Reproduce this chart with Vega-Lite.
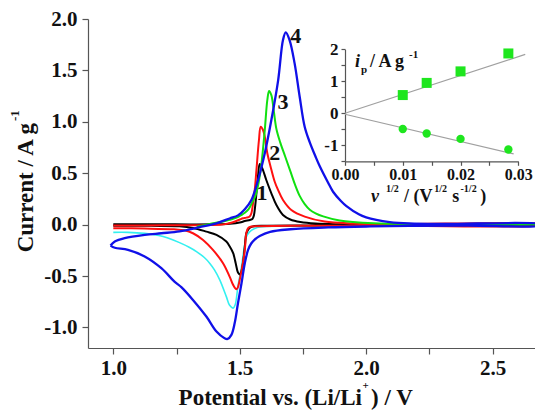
{
  "$schema": "https://vega.github.io/schema/vega-lite/v6.json",
  "width": 447,
  "height": 329,
  "autosize": "none",
  "padding": {"left": 88, "top": 19, "right": 0, "bottom": 65},
  "background": "white",
  "config": {"view": {"stroke": null}, "font": "Liberation Serif"},
  "datasets": {
    "cv": [
      {"c":"1","i":0,"V":1.0,"I":0.004},{"c":"1","i":1,"V":1.1,"I":0.003},{"c":"1","i":2,"V":1.2,"I":0.003},{"c":"1","i":3,"V":1.3,"I":0.002},{"c":"1","i":4,"V":1.4,"I":0.003},{"c":"1","i":5,"V":1.46,"I":0.008},{"c":"1","i":6,"V":1.5,"I":0.02},{"c":"1","i":7,"V":1.52,"I":0.035},{"c":"1","i":8,"V":1.54,"I":0.045},{"c":"1","i":9,"V":1.55,"I":0.055},{"c":"1","i":10,"V":1.556,"I":0.09},{"c":"1","i":11,"V":1.561,"I":0.18},{"c":"1","i":12,"V":1.566,"I":0.305},{"c":"1","i":13,"V":1.572,"I":0.467},{"c":"1","i":14,"V":1.579,"I":0.59},{"c":"1","i":15,"V":1.585,"I":0.57},{"c":"1","i":16,"V":1.592,"I":0.53},{"c":"1","i":17,"V":1.605,"I":0.434},{"c":"1","i":18,"V":1.625,"I":0.305},{"c":"1","i":19,"V":1.645,"I":0.19},{"c":"1","i":20,"V":1.671,"I":0.094},{"c":"1","i":21,"V":1.7,"I":0.05},{"c":"1","i":22,"V":1.74,"I":0.025},{"c":"1","i":23,"V":1.8,"I":0.01},{"c":"1","i":24,"V":1.9,"I":0.004},{"c":"1","i":25,"V":2.2,"I":0.002},{"c":"1","i":26,"V":2.7,"I":0.001},
      {"c":"1","i":27,"V":2.7,"I":-0.004},{"c":"1","i":28,"V":2.2,"I":-0.006},{"c":"1","i":29,"V":1.8,"I":-0.008},{"c":"1","i":30,"V":1.6,"I":-0.01},{"c":"1","i":31,"V":1.555,"I":-0.015},{"c":"1","i":32,"V":1.54,"I":-0.03},{"c":"1","i":33,"V":1.533,"I":-0.05},{"c":"1","i":34,"V":1.526,"I":-0.084},{"c":"1","i":35,"V":1.52,"I":-0.214},{"c":"1","i":36,"V":1.513,"I":-0.375},{"c":"1","i":37,"V":1.506,"I":-0.46},{"c":"1","i":38,"V":1.5,"I":-0.485},{"c":"1","i":39,"V":1.493,"I":-0.466},{"c":"1","i":40,"V":1.484,"I":-0.375},{"c":"1","i":41,"V":1.474,"I":-0.278},{"c":"1","i":42,"V":1.46,"I":-0.21},{"c":"1","i":43,"V":1.447,"I":-0.165},{"c":"1","i":44,"V":1.408,"I":-0.1},{"c":"1","i":45,"V":1.368,"I":-0.068},{"c":"1","i":46,"V":1.315,"I":-0.032},{"c":"1","i":47,"V":1.262,"I":-0.016},{"c":"1","i":48,"V":1.15,"I":-0.012},{"c":"1","i":49,"V":1.0,"I":-0.01},

      {"c":"2","i":0,"V":1.0,"I":-0.008},{"c":"2","i":1,"V":1.2,"I":-0.007},{"c":"2","i":2,"V":1.35,"I":-0.005},{"c":"2","i":3,"V":1.43,"I":0.0},{"c":"2","i":4,"V":1.47,"I":0.02},{"c":"2","i":5,"V":1.5,"I":0.05},{"c":"2","i":6,"V":1.513,"I":0.062},{"c":"2","i":7,"V":1.526,"I":0.068},{"c":"2","i":8,"V":1.539,"I":0.08},{"c":"2","i":9,"V":1.546,"I":0.11},{"c":"2","i":10,"V":1.552,"I":0.2},{"c":"2","i":11,"V":1.559,"I":0.33},{"c":"2","i":12,"V":1.566,"I":0.53},{"c":"2","i":13,"V":1.576,"I":0.823},{"c":"2","i":14,"V":1.583,"I":0.952},{"c":"2","i":15,"V":1.592,"I":0.92},{"c":"2","i":16,"V":1.599,"I":0.855},{"c":"2","i":17,"V":1.609,"I":0.694},{"c":"2","i":18,"V":1.622,"I":0.564},{"c":"2","i":19,"V":1.638,"I":0.42},{"c":"2","i":20,"V":1.651,"I":0.34},{"c":"2","i":21,"V":1.671,"I":0.24},{"c":"2","i":22,"V":1.704,"I":0.143},{"c":"2","i":23,"V":1.757,"I":0.078},{"c":"2","i":24,"V":1.836,"I":0.03},{"c":"2","i":25,"V":1.95,"I":0.012},{"c":"2","i":26,"V":2.1,"I":0.005},{"c":"2","i":27,"V":2.7,"I":0.002},
      {"c":"2","i":28,"V":2.7,"I":-0.005},{"c":"2","i":29,"V":2.0,"I":-0.008},{"c":"2","i":30,"V":1.7,"I":-0.01},{"c":"2","i":31,"V":1.58,"I":-0.015},{"c":"2","i":32,"V":1.546,"I":-0.019},{"c":"2","i":33,"V":1.533,"I":-0.035},{"c":"2","i":34,"V":1.526,"I":-0.084},{"c":"2","i":35,"V":1.52,"I":-0.246},{"c":"2","i":36,"V":1.51,"I":-0.408},{"c":"2","i":37,"V":1.5,"I":-0.537},{"c":"2","i":38,"V":1.493,"I":-0.608},{"c":"2","i":39,"V":1.487,"I":-0.628},{"c":"2","i":40,"V":1.474,"I":-0.586},{"c":"2","i":41,"V":1.46,"I":-0.505},{"c":"2","i":42,"V":1.434,"I":-0.375},{"c":"2","i":43,"V":1.394,"I":-0.246},{"c":"2","i":44,"V":1.355,"I":-0.149},{"c":"2","i":45,"V":1.315,"I":-0.084},{"c":"2","i":46,"V":1.282,"I":-0.055},{"c":"2","i":47,"V":1.24,"I":-0.045},{"c":"2","i":48,"V":1.124,"I":-0.038},{"c":"2","i":49,"V":1.0,"I":-0.035},

      {"c":"3","i":0,"V":1.33,"I":-0.02},{"c":"3","i":1,"V":1.36,"I":-0.005},{"c":"3","i":2,"V":1.394,"I":0.013},{"c":"3","i":3,"V":1.43,"I":0.028},{"c":"3","i":4,"V":1.46,"I":0.046},{"c":"3","i":5,"V":1.49,"I":0.07},{"c":"3","i":6,"V":1.507,"I":0.094},{"c":"3","i":7,"V":1.52,"I":0.115},{"c":"3","i":8,"V":1.535,"I":0.15},{"c":"3","i":9,"V":1.55,"I":0.22},{"c":"3","i":10,"V":1.562,"I":0.28},{"c":"3","i":11,"V":1.574,"I":0.4},{"c":"3","i":12,"V":1.586,"I":0.596},{"c":"3","i":13,"V":1.599,"I":0.92},{"c":"3","i":14,"V":1.609,"I":1.21},{"c":"3","i":15,"V":1.616,"I":1.3},{"c":"3","i":16,"V":1.625,"I":1.26},{"c":"3","i":17,"V":1.635,"I":1.1},{"c":"3","i":18,"V":1.645,"I":0.93},{"c":"3","i":19,"V":1.66,"I":0.8},{"c":"3","i":20,"V":1.68,"I":0.66},{"c":"3","i":21,"V":1.7,"I":0.52},{"c":"3","i":22,"V":1.72,"I":0.38},{"c":"3","i":23,"V":1.737,"I":0.28},{"c":"3","i":24,"V":1.757,"I":0.2},{"c":"3","i":25,"V":1.777,"I":0.145},{"c":"3","i":26,"V":1.8,"I":0.11},{"c":"3","i":27,"V":1.83,"I":0.08},{"c":"3","i":28,"V":1.895,"I":0.04},{"c":"3","i":29,"V":2.03,"I":0.013},{"c":"3","i":30,"V":2.2,"I":0.005},{"c":"3","i":31,"V":2.7,"I":0.002},

      {"c":"3c","i":0,"V":1.0,"I":-0.075},{"c":"3c","i":1,"V":1.058,"I":-0.075},{"c":"3c","i":2,"V":1.124,"I":-0.085},{"c":"3c","i":3,"V":1.18,"I":-0.105},{"c":"3c","i":4,"V":1.216,"I":-0.13},{"c":"3c","i":5,"V":1.262,"I":-0.175},{"c":"3c","i":6,"V":1.3,"I":-0.22},{"c":"3c","i":7,"V":1.329,"I":-0.262},{"c":"3c","i":8,"V":1.36,"I":-0.32},{"c":"3c","i":9,"V":1.381,"I":-0.375},{"c":"3c","i":10,"V":1.4,"I":-0.44},{"c":"3c","i":11,"V":1.421,"I":-0.537},{"c":"3c","i":12,"V":1.447,"I":-0.7},{"c":"3c","i":13,"V":1.46,"I":-0.785},{"c":"3c","i":14,"V":1.474,"I":-0.812},{"c":"3c","i":15,"V":1.482,"I":-0.78},{"c":"3c","i":16,"V":1.493,"I":-0.6},{"c":"3c","i":17,"V":1.507,"I":-0.41},{"c":"3c","i":18,"V":1.515,"I":-0.27},{"c":"3c","i":19,"V":1.52,"I":-0.19},{"c":"3c","i":20,"V":1.526,"I":-0.12},{"c":"3c","i":21,"V":1.539,"I":-0.07},{"c":"3c","i":22,"V":1.559,"I":-0.038},{"c":"3c","i":23,"V":1.579,"I":-0.022},{"c":"3c","i":24,"V":1.7,"I":-0.015},{"c":"3c","i":25,"V":2.0,"I":-0.01},{"c":"3c","i":26,"V":2.7,"I":-0.005},

      {"c":"4","i":0,"V":0.989,"I":-0.204},{"c":"4","i":1,"V":1.006,"I":-0.165},{"c":"4","i":2,"V":1.045,"I":-0.132},{"c":"4","i":3,"V":1.124,"I":-0.1},{"c":"4","i":4,"V":1.19,"I":-0.084},{"c":"4","i":5,"V":1.262,"I":-0.066},{"c":"4","i":6,"V":1.341,"I":-0.025},{"c":"4","i":7,"V":1.408,"I":0.013},{"c":"4","i":8,"V":1.46,"I":0.06},{"c":"4","i":9,"V":1.493,"I":0.09},{"c":"4","i":10,"V":1.52,"I":0.15},{"c":"4","i":11,"V":1.546,"I":0.24},{"c":"4","i":12,"V":1.572,"I":0.43},{"c":"4","i":13,"V":1.599,"I":0.694},{"c":"4","i":14,"V":1.625,"I":1.017},{"c":"4","i":15,"V":1.652,"I":1.406},{"c":"4","i":16,"V":1.671,"I":1.795},{"c":"4","i":17,"V":1.682,"I":1.87},{"c":"4","i":18,"V":1.697,"I":1.795},{"c":"4","i":19,"V":1.717,"I":1.568},{"c":"4","i":20,"V":1.737,"I":1.244},{"c":"4","i":21,"V":1.757,"I":0.95},{"c":"4","i":22,"V":1.777,"I":0.8},{"c":"4","i":23,"V":1.8,"I":0.66},{"c":"4","i":24,"V":1.816,"I":0.57},{"c":"4","i":25,"V":1.849,"I":0.41},{"c":"4","i":26,"V":1.869,"I":0.32},{"c":"4","i":27,"V":1.9,"I":0.23},{"c":"4","i":28,"V":1.922,"I":0.18},{"c":"4","i":29,"V":1.971,"I":0.1},{"c":"4","i":30,"V":2.0,"I":0.07},{"c":"4","i":31,"V":2.04,"I":0.045},{"c":"4","i":32,"V":2.093,"I":0.025},{"c":"4","i":33,"V":2.17,"I":0.012},{"c":"4","i":34,"V":2.3,"I":0.006},{"c":"4","i":35,"V":2.7,"I":0.003},
      {"c":"4","i":36,"V":2.7,"I":-0.008},{"c":"4","i":37,"V":2.4,"I":-0.01},{"c":"4","i":38,"V":2.17,"I":-0.013},{"c":"4","i":39,"V":2.0,"I":-0.018},{"c":"4","i":40,"V":1.85,"I":-0.027},{"c":"4","i":41,"V":1.7,"I":-0.045},{"c":"4","i":42,"V":1.62,"I":-0.07},{"c":"4","i":43,"V":1.579,"I":-0.11},{"c":"4","i":44,"V":1.559,"I":-0.145},{"c":"4","i":45,"V":1.546,"I":-0.181},{"c":"4","i":46,"V":1.533,"I":-0.246},{"c":"4","i":47,"V":1.52,"I":-0.375},{"c":"4","i":48,"V":1.507,"I":-0.57},{"c":"4","i":49,"V":1.493,"I":-0.764},{"c":"4","i":50,"V":1.48,"I":-0.958},{"c":"4","i":51,"V":1.467,"I":-1.072},{"c":"4","i":52,"V":1.452,"I":-1.112},{"c":"4","i":53,"V":1.44,"I":-1.105},{"c":"4","i":54,"V":1.408,"I":-1.04},{"c":"4","i":55,"V":1.368,"I":-0.894},{"c":"4","i":56,"V":1.315,"I":-0.732},{"c":"4","i":57,"V":1.27,"I":-0.61},{"c":"4","i":58,"V":1.242,"I":-0.554},{"c":"4","i":59,"V":1.19,"I":-0.424},{"c":"4","i":60,"V":1.124,"I":-0.31},{"c":"4","i":61,"V":1.058,"I":-0.246},{"c":"4","i":62,"V":1.006,"I":-0.225},{"c":"4","i":63,"V":0.989,"I":-0.204}
    ],
    "labels": [
      {"lab":"1","V":1.588,"I":0.305},{"lab":"2","V":1.638,"I":0.694},{"lab":"3","V":1.671,"I":1.195},{"lab":"4","V":1.721,"I":1.834}
    ],
    "pts": [
      {"x":0.01,"y":0.57,"k":"a"},{"x":0.01414,"y":0.95,"k":"a"},{"x":0.02,"y":1.31,"k":"a"},{"x":0.02828,"y":1.87,"k":"a"},
      {"x":0.01,"y":-0.49,"k":"c"},{"x":0.01414,"y":-0.63,"k":"c"},{"x":0.02,"y":-0.8,"k":"c"},{"x":0.02828,"y":-1.13,"k":"c"}
    ],
    "fit": [
      {"line":"a","x":0,"y":0},{"line":"a","x":0.0312,"y":1.84},
      {"line":"c","x":0,"y":-0.03},{"line":"c","x":0.0292,"y":-1.27}
    ],
    "one": [{}]
  },
  "layer": [
    {
      "layer": [
        {
          "data": {"name": "cv"},
          "transform": [{"filter": "datum.c === '3c'"}],
          "mark": {"type": "line", "color": "#33f0f0", "strokeWidth": 1.6, "clip": true, "interpolate": "catmull-rom"},
          "encoding": {
            "x": {"field": "V", "type": "quantitative",
              "scale": {"domain": [0.9, 2.6675], "nice": false, "zero": false},
              "axis": {"title": null, "values": [1.0, 1.25, 1.5, 1.75, 2.0, 2.25, 2.5],
                "labelExpr": "abs(datum.value*2 - round(datum.value*2)) < 0.001 ? format(datum.value, '.1f') : ''",
                "tickSize": 6,
                "labelFont": "Liberation Serif", "labelFontWeight": "bold", "labelFontSize": 21, "labelColor": "#111",
                "labelPadding": 3, "domainColor": "#555", "tickColor": "#555", "domainWidth": 1.2, "tickWidth": 1.2,
                "grid": false, "labelOverlap": false, "labelFlush": false}},
            "y": {"field": "I", "type": "quantitative",
              "scale": {"domain": [-1.2, 2.0], "nice": false, "zero": false},
              "axis": {"title": null, "values": [-1.0, -0.75, -0.5, -0.25, 0, 0.25, 0.5, 0.75, 1.0, 1.25, 1.5, 1.75, 2.0],
                "labelExpr": "abs(datum.value*2 - round(datum.value*2)) < 0.001 ? (datum.value < 0 ? '-' : '') + format(abs(datum.value), '.1f') : ''",
                "tickSize": 6,
                "labelFont": "Liberation Serif", "labelFontWeight": "bold", "labelFontSize": 21, "labelColor": "#111",
                "labelPadding": 5, "domainColor": "#555", "tickColor": "#555", "domainWidth": 1.2, "tickWidth": 1.2,
                "grid": false, "labelOverlap": false, "labelFlush": false}},
            "order": {"field": "i", "type": "quantitative"}
          }
        },
        {
          "data": {"name": "cv"},
          "transform": [{"filter": "datum.c === '1'"}],
          "mark": {"type": "line", "color": "#000000", "strokeWidth": 2, "clip": true, "interpolate": "catmull-rom"},
          "encoding": {
            "x": {"field": "V", "type": "quantitative"},
            "y": {"field": "I", "type": "quantitative"},
            "order": {"field": "i", "type": "quantitative"}
          }
        },
        {
          "data": {"name": "cv"},
          "transform": [{"filter": "datum.c === '2'"}],
          "mark": {"type": "line", "color": "#ff1010", "strokeWidth": 2, "clip": true, "interpolate": "catmull-rom"},
          "encoding": {
            "x": {"field": "V", "type": "quantitative"},
            "y": {"field": "I", "type": "quantitative"},
            "order": {"field": "i", "type": "quantitative"}
          }
        },
        {
          "data": {"name": "cv"},
          "transform": [{"filter": "datum.c === '3'"}],
          "mark": {"type": "line", "color": "#10e010", "strokeWidth": 2, "clip": true, "interpolate": "catmull-rom"},
          "encoding": {
            "x": {"field": "V", "type": "quantitative"},
            "y": {"field": "I", "type": "quantitative"},
            "order": {"field": "i", "type": "quantitative"}
          }
        },
        {
          "data": {"name": "cv"},
          "transform": [{"filter": "datum.c === '4'"}],
          "mark": {"type": "line", "color": "#1010e8", "strokeWidth": 2.3, "clip": true, "interpolate": "catmull-rom"},
          "encoding": {
            "x": {"field": "V", "type": "quantitative"},
            "y": {"field": "I", "type": "quantitative"},
            "order": {"field": "i", "type": "quantitative"}
          }
        },
        {
          "data": {"name": "labels"},
          "mark": {"type": "text", "font": "Liberation Serif", "fontWeight": "bold", "fontSize": 22, "align": "center", "baseline": "middle", "color": "#111"},
          "encoding": {
            "x": {"field": "V", "type": "quantitative"},
            "y": {"field": "I", "type": "quantitative"},
            "text": {"field": "lab"}
          }
        },
        {
          "data": {"name": "one"},
          "mark": {"type": "text", "font": "Liberation Serif", "fontWeight": "bold", "fontSize": 23, "align": "right", "baseline": "alphabetic", "angle": 270, "color": "#111"},
          "encoding": {
            "x": {"datum": 0.6825, "type": "quantitative"},
            "y": {"datum": 0.988, "type": "quantitative"},
            "text": {"value": "Current / A g"}
          }
        },
        {
          "data": {"name": "one"},
          "mark": {"type": "text", "font": "Liberation Serif", "fontWeight": "bold", "fontSize": 13, "align": "left", "baseline": "alphabetic", "angle": 270, "color": "#111"},
          "encoding": {
            "x": {"datum": 0.6272, "type": "quantitative"},
            "y": {"datum": 1.007, "type": "quantitative"},
            "text": {"value": "-1"}
          }
        },
        {
          "data": {"name": "one"},
          "mark": {"type": "text", "font": "Liberation Serif", "fontWeight": "bold", "fontSize": 23, "align": "right", "baseline": "alphabetic", "color": "#111"},
          "encoding": {
            "x": {"datum": 1.9834, "type": "quantitative"},
            "y": {"datum": -1.754, "type": "quantitative"},
            "text": {"value": "Potential vs. (Li/Li"}
          }
        },
        {
          "data": {"name": "one"},
          "mark": {"type": "text", "font": "Liberation Serif", "fontWeight": "bold", "fontSize": 11, "align": "left", "baseline": "alphabetic", "color": "#111"},
          "encoding": {
            "x": {"datum": 1.9854, "type": "quantitative"},
            "y": {"datum": -1.6, "type": "quantitative"},
            "text": {"value": "+"}
          }
        },
        {
          "data": {"name": "one"},
          "mark": {"type": "text", "font": "Liberation Serif", "fontWeight": "bold", "fontSize": 23, "align": "left", "baseline": "alphabetic", "color": "#111"},
          "encoding": {
            "x": {"datum": 2.019, "type": "quantitative"},
            "y": {"datum": -1.754, "type": "quantitative"},
            "text": {"value": ") / V"}
          }
        }
      ]
    },
    {
      "layer": [
        {
          "data": {"name": "fit"},
          "mark": {"type": "line", "color": "#a0a0a0", "strokeWidth": 1.2},
          "encoding": {
            "x": {"field": "x", "type": "quantitative",
              "scale": {"domain": [0, 0.03], "range": [257, 430.3], "nice": false, "zero": false},
              "axis": {"title": null, "orient": "bottom", "offset": -186.7,
                "values": [0, 0.005, 0.01, 0.015, 0.02, 0.025, 0.03],
                "labelExpr": "abs(datum.value*100 - round(datum.value*100)) < 0.0001 ? format(datum.value, '.2f') : ''",
                "tickSize": 4,
                "labelFont": "Liberation Serif", "labelFontWeight": "bold", "labelFontSize": 16, "labelColor": "#111",
                "labelPadding": 1, "domainColor": "#555", "tickColor": "#555", "domainWidth": 1.2, "tickWidth": 1.2,
                "grid": false, "labelOverlap": false, "labelFlush": false}},
            "y": {"field": "y", "type": "quantitative",
              "scale": {"domain": [-1.5, 2], "range": [142.3, 30.3], "nice": false, "zero": false},
              "axis": {"title": null, "orient": "left", "offset": -257,
                "values": [-1.5, -1, -0.5, 0, 0.5, 1, 1.5, 2],
                "labelExpr": "abs(datum.value - round(datum.value)) < 0.001 ? (datum.value < 0 ? '-' : '') + format(abs(datum.value), 'd') : ''",
                "tickSize": 4,
                "labelFont": "Liberation Serif", "labelFontWeight": "bold", "labelFontSize": 17, "labelColor": "#111",
                "labelPadding": 3, "domainColor": "#555", "tickColor": "#555", "domainWidth": 1.2, "tickWidth": 1.2,
                "grid": false, "labelOverlap": false, "labelFlush": false}},
            "detail": {"field": "line"}
          }
        },
        {
          "data": {"name": "pts"},
          "transform": [{"filter": "datum.k === 'a'"}],
          "mark": {"type": "point", "shape": "square", "filled": true, "size": 100, "color": "#1ee61e", "opacity": 1},
          "encoding": {
            "x": {"field": "x", "type": "quantitative"},
            "y": {"field": "y", "type": "quantitative"}
          }
        },
        {
          "data": {"name": "pts"},
          "transform": [{"filter": "datum.k === 'c'"}],
          "mark": {"type": "point", "shape": "circle", "filled": true, "size": 70, "color": "#1ee61e", "opacity": 1},
          "encoding": {
            "x": {"field": "x", "type": "quantitative"},
            "y": {"field": "y", "type": "quantitative"}
          }
        },
        {
          "data": {"name": "one"},
          "mark": {"type": "text", "font": "Liberation Serif", "fontWeight": "bold", "fontStyle": "italic", "fontSize": 18, "align": "left", "baseline": "alphabetic", "color": "#111"},
          "encoding": {"x": {"datum": 0.00173, "type": "quantitative"}, "y": {"datum": 1.456, "type": "quantitative"}, "text": {"value": "i"}}
        },
        {
          "data": {"name": "one"},
          "mark": {"type": "text", "font": "Liberation Serif", "fontWeight": "bold", "fontSize": 11, "align": "left", "baseline": "alphabetic", "color": "#111"},
          "encoding": {"x": {"datum": 0.00277, "type": "quantitative"}, "y": {"datum": 1.244, "type": "quantitative"}, "text": {"value": "p"}}
        },
        {
          "data": {"name": "one"},
          "mark": {"type": "text", "font": "Liberation Serif", "fontWeight": "bold", "fontSize": 18, "align": "left", "baseline": "alphabetic", "color": "#111"},
          "encoding": {"x": {"datum": 0.00434, "type": "quantitative"}, "y": {"datum": 1.456, "type": "quantitative"}, "text": {"value": "/ A g"}}
        },
        {
          "data": {"name": "one"},
          "mark": {"type": "text", "font": "Liberation Serif", "fontWeight": "bold", "fontSize": 11, "align": "left", "baseline": "alphabetic", "color": "#111"},
          "encoding": {"x": {"datum": 0.0111, "type": "quantitative"}, "y": {"datum": 1.719, "type": "quantitative"}, "text": {"value": "-1"}}
        },
        {
          "data": {"name": "one"},
          "mark": {"type": "text", "font": "Liberation Serif", "fontWeight": "bold", "fontStyle": "italic", "fontSize": 18, "align": "left", "baseline": "alphabetic", "color": "#111"},
          "encoding": {"x": {"datum": 0.00451, "type": "quantitative"}, "y": {"datum": -2.78, "type": "quantitative"}, "text": {"value": "ν"}}
        },
        {
          "data": {"name": "one"},
          "mark": {"type": "text", "font": "Liberation Serif", "fontWeight": "bold", "fontSize": 10, "align": "left", "baseline": "alphabetic", "color": "#111"},
          "encoding": {"x": {"datum": 0.00711, "type": "quantitative"}, "y": {"datum": -2.45, "type": "quantitative"}, "text": {"value": "1/2"}}
        },
        {
          "data": {"name": "one"},
          "mark": {"type": "text", "font": "Liberation Serif", "fontWeight": "bold", "fontSize": 18, "align": "left", "baseline": "alphabetic", "color": "#111"},
          "encoding": {"x": {"datum": 0.01023, "type": "quantitative"}, "y": {"datum": -2.78, "type": "quantitative"}, "text": {"value": "/ (V"}}
        },
        {
          "data": {"name": "one"},
          "mark": {"type": "text", "font": "Liberation Serif", "fontWeight": "bold", "fontSize": 10, "align": "left", "baseline": "alphabetic", "color": "#111"},
          "encoding": {"x": {"datum": 0.01543, "type": "quantitative"}, "y": {"datum": -2.45, "type": "quantitative"}, "text": {"value": "1/2"}}
        },
        {
          "data": {"name": "one"},
          "mark": {"type": "text", "font": "Liberation Serif", "fontWeight": "bold", "fontSize": 18, "align": "left", "baseline": "alphabetic", "color": "#111"},
          "encoding": {"x": {"datum": 0.01855, "type": "quantitative"}, "y": {"datum": -2.78, "type": "quantitative"}, "text": {"value": "s"}}
        },
        {
          "data": {"name": "one"},
          "mark": {"type": "text", "font": "Liberation Serif", "fontWeight": "bold", "fontSize": 10, "align": "left", "baseline": "alphabetic", "color": "#111"},
          "encoding": {"x": {"datum": 0.02, "type": "quantitative"}, "y": {"datum": -2.45, "type": "quantitative"}, "text": {"value": "-1/2"}}
        },
        {
          "data": {"name": "one"},
          "mark": {"type": "text", "font": "Liberation Serif", "fontWeight": "bold", "fontSize": 18, "align": "left", "baseline": "alphabetic", "color": "#111"},
          "encoding": {"x": {"datum": 0.02341, "type": "quantitative"}, "y": {"datum": -2.78, "type": "quantitative"}, "text": {"value": ")"}}
        }
      ]
    }
  ],
  "resolve": {"scale": {"x": "independent", "y": "independent"}, "axis": {"x": "independent", "y": "independent"}}
}
